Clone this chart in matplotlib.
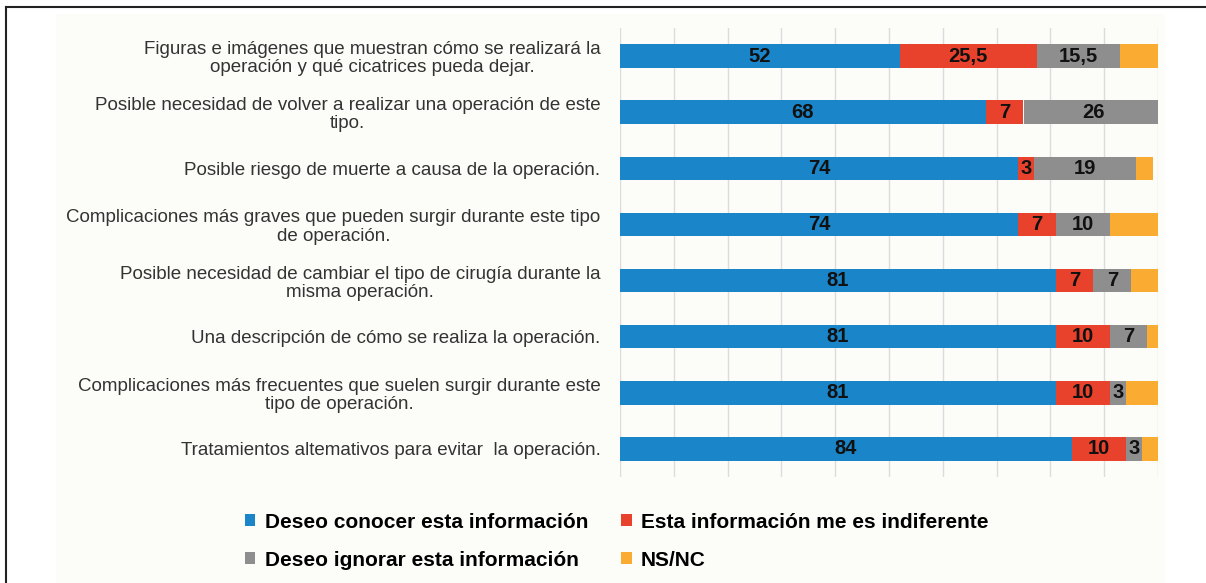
import matplotlib.pyplot as plt
from matplotlib.patches import Patch, Rectangle
from matplotlib.lines import Line2D

plt.rcParams['font.family'] = ['Liberation Sans', 'DejaVu Sans']

# data (top row first)
labels = [
    "Figuras e imágenes que muestran cómo se realizará la\noperación y qué cicatrices pueda dejar.",
    "Posible necesidad de volver a realizar una operación de este\ntipo.",
    "Posible riesgo de muerte a causa de la operación.",
    "Complicaciones más graves que pueden surgir durante este tipo\nde operación.",
    "Posible necesidad de cambiar el tipo de cirugía durante la\nmisma operación.",
    "Una descripción de cómo se realiza la operación.",
    "Complicaciones más frecuentes que suelen surgir durante este\ntipo de operación.",
    "Tratamientos altemativos para evitar  la operación.",
]
conocer = [52, 68, 74, 74, 81, 81, 81, 84]
indiferente = [25.5, 7, 3, 7, 7, 10, 10, 10]
ignorar = [15.5, 26, 19, 10, 7, 7, 3, 3]
nsnc = [7, 0, 3, 9, 5, 2, 6, 3]

series = [
    ("Deseo conocer esta información", conocer, "#1a85c9"),
    ("Esta información me es indiferente", indiferente, "#e8412c"),
    ("Deseo ignorar esta información", ignorar, "#8e8e8e"),
    ("NS/NC", nsnc, "#f9ab32"),
]
show_values = [True, True, True, False]

fig = plt.figure(figsize=(12.06, 5.83), dpi=100, facecolor="white")

# off-white panel and frame lines
fig.add_artist(Rectangle((56 / 1206, 0), (1165 - 56) / 1206, 1 - 14 / 583,
                         transform=fig.transFigure, facecolor="#fcfcf9",
                         edgecolor="none", zorder=-10))
fig.add_artist(Line2D([6 / 1206, 1], [1 - 7 / 583, 1 - 7 / 583],
                      transform=fig.transFigure, color="#222222", lw=1.5))
fig.add_artist(Line2D([6 / 1206, 6 / 1206], [0, 1 - 7 / 583],
                      transform=fig.transFigure, color="#222222", lw=1.5))

ax = fig.add_axes([620 / 1206, 1 - 477 / 583, (1158 - 620) / 1206, (477 - 28) / 583])
ax.set_facecolor("none")

y = list(range(len(labels)))
left = [0] * len(labels)
for (name, vals, col), show in zip(series, show_values):
    bars = ax.barh(y, vals, left=left, height=0.42, color=col, label=name, zorder=3)
    if show:
        for yi, v, l in zip(y, vals, left):
            if v > 0:
                txt = ("%g" % v).replace(".", ",")
                ax.text(l + v / 2, yi, txt, ha="center", va="center",
                        fontsize=14.5, fontweight="bold", color="#111111", zorder=4)
    left = [a + b for a, b in zip(left, vals)]

ax.set_xlim(0, 100)
ax.set_ylim(len(labels) - 0.5, -0.5)
ax.set_xticks(range(0, 101, 10))
ax.set_xticklabels([])
ax.grid(axis="x", color="#dcdcdc", lw=1, zorder=0)
ax.tick_params(axis="both", length=0)
ax.set_yticks(y)
ax.set_yticklabels(labels, fontsize=13.5, color="#333333")
ax.tick_params(axis="y", pad=14)
for t in ax.get_yticklabels():
    t.set_multialignment("center")
    t.set_linespacing(1.1)
for s in ax.spines.values():
    s.set_visible(False)

# legend filled column-wise -> reorder so rows read like the original
order = [0, 2, 1, 3]
handles = [Patch(facecolor=series[i][2], edgecolor="none") for i in order]
names = [series[i][0] for i in order]
fig.legend(handles, names, ncol=2, loc="upper left",
           bbox_to_anchor=(226 / 1206, 1 - 494 / 583), frameon=False,
           prop={"size": 15, "weight": "bold"}, handlelength=0.5,
           handleheight=0.5, handletextpad=0.45, columnspacing=1.6,
           labelspacing=0.9)

fig.savefig("out.png", dpi=100)
